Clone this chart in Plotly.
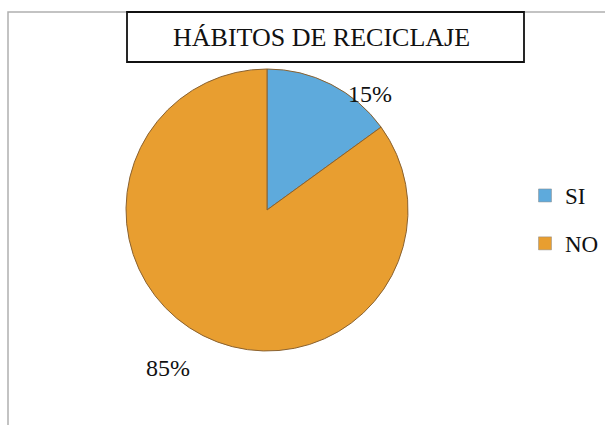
import plotly.graph_objects as go

labels = ["SI", "NO"]
values = [15, 85]
colors = ["#5eaadc", "#e89e30"]
title_text = "HÁBITOS DE RECICLAJE"

W, H = 605, 425
SERIF = "Liberation Serif, Times New Roman, serif"

def px(x):
    return x / W

def py(y):
    return 1 - y / H

fig = go.Figure()
cx, cy, r = 267, 210, 141
fig.add_trace(go.Pie(
    labels=labels,
    values=values,
    sort=False,
    direction="clockwise",
    rotation=0,
    marker=dict(colors=colors, line=dict(color="#8a6230", width=1)),
    textinfo="none",
    hoverinfo="label+percent",
    domain=dict(x=[px(cx - r), px(cx + r)], y=[py(cy + r), py(cy - r)]),
    showlegend=False,
))

# legend entries (one per category, same colours as the slices)
for lab, col in zip(labels, colors):
    fig.add_trace(go.Scatter(
        x=[None], y=[None], mode="markers", name=lab, legendgroup=lab,
        marker=dict(symbol="square", size=13, color=col,
                    line=dict(color="#8a8a8a", width=0.5)),
        showlegend=True, hoverinfo="skip",
    ))

total = sum(values)
label_pos = [(370, 94), (168, 368)]
for v, (x, y) in zip(values, label_pos):
    fig.add_annotation(
        x=px(x), y=py(y), xref="paper", yref="paper",
        text=f"{round(100 * v / total)}%", showarrow=False,
        font=dict(family=SERIF, size=24, color="#111111"),
        xanchor="center", yanchor="middle",
    )

fig.add_annotation(
    x=px(321), y=py(38), xref="paper", yref="paper",
    text=title_text, showarrow=False,
    font=dict(family=SERIF, size=26, color="#111111"),
    xanchor="center", yanchor="middle",
)

fig.update_layout(
    width=W, height=H,
    margin=dict(l=0, r=0, t=0, b=0),
    paper_bgcolor="white",
    plot_bgcolor="white",
    xaxis=dict(visible=False),
    yaxis=dict(visible=False),
    legend=dict(
        x=px(525), y=py(174), xanchor="left", yanchor="top",
        font=dict(family=SERIF, size=23, color="#111111"),
        tracegroupgap=15,
        bgcolor="rgba(0,0,0,0)",
    ),
    shapes=[
        dict(type="rect", xref="paper", yref="paper",
             x0=px(8), x1=px(610), y0=py(440), y1=py(12),
             line=dict(color="#b0b0b0", width=1.5), fillcolor="rgba(0,0,0,0)"),
        dict(type="rect", xref="paper", yref="paper",
             x0=px(127), x1=px(524), y0=py(62), y1=py(12),
             line=dict(color="#111111", width=1.8), fillcolor="white"),
    ],
)

fig.write_html(
    "out.html",
    config={"displayModeBar": False},
    post_script="document.body.style.margin='0';document.body.style.overflow='hidden';",
)
